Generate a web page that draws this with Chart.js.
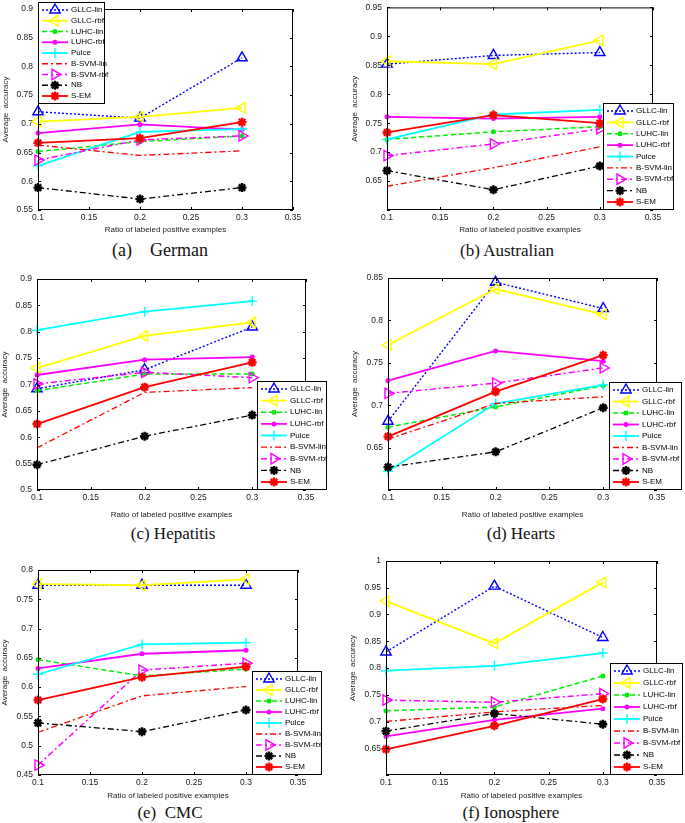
<!DOCTYPE html>
<html lang="en">
<head>
<meta charset="UTF-8" />
<title>Average accuracy vs ratio of labeled positive examples</title>
<script src="https://cdn.jsdelivr.net/npm/chart.js"></script>
<style>
  body { margin: 0; background: #fff; }
  #page { position: relative; width: 685px; height: 823px; overflow: hidden; }
  #page canvas { position: absolute; }
  .caption {
    position: absolute;
    font-family: "Liberation Serif", "Times New Roman", serif;
    font-size: 17px;
    line-height: 1;
    color: #111;
    white-space: pre;
    transform: translate(-50%, -50%);
  }
</style>
</head>
<body>
<div id="page"></div>
<script>
const ratios = [0.1, 0.2, 0.3];
const methods = ["GLLC-lin", "GLLC-rbf", "LUHC-lin", "LUHC-rbf", "Pulce", "B-SVM-lin", "B-SVM-rbf", "NB", "S-EM"];

// one row per method, in the order above; columns follow ratios
const german = [
  [0.721, 0.710, 0.815],
  [0.704, 0.712, 0.728],
  [0.652, 0.669, 0.679],
  [0.684, 0.699, 0.690],
  [0.627, 0.686, 0.691],
  [0.663, 0.645, 0.653],
  [0.637, 0.672, 0.679],
  [0.589, 0.569, 0.589],
  [0.667, 0.675, 0.703]
];
const australian = [
  [0.852, 0.867, 0.872],
  [0.857, 0.852, 0.893],
  [0.722, 0.735, 0.744],
  [0.761, 0.758, 0.761],
  [0.722, 0.765, 0.773],
  [0.641, 0.673, 0.709],
  [0.694, 0.714, 0.740],
  [0.668, 0.635, 0.676],
  [0.734, 0.764, 0.750]
];
const hepatitis = [
  [0.692, 0.728, 0.809],
  [0.731, 0.792, 0.818],
  [0.688, 0.720, 0.720],
  [0.718, 0.747, 0.752],
  [0.803, 0.838, 0.858],
  [0.580, 0.685, 0.694],
  [0.701, 0.723, 0.713],
  [0.548, 0.602, 0.642],
  [0.625, 0.695, 0.742]
];
const hearts = [
  [0.681, 0.845, 0.814],
  [0.771, 0.837, 0.807],
  [0.674, 0.698, 0.723],
  [0.729, 0.764, 0.752],
  [0.622, 0.702, 0.724],
  [0.660, 0.702, 0.710],
  [0.714, 0.726, 0.744],
  [0.627, 0.645, 0.697],
  [0.663, 0.716, 0.759]
];
const cmc = [
  [0.774, 0.774, 0.774],
  [0.776, 0.774, 0.784],
  [0.647, 0.619, 0.631],
  [0.632, 0.657, 0.663],
  [0.622, 0.673, 0.676],
  [0.523, 0.585, 0.601],
  [0.467, 0.629, 0.641],
  [0.539, 0.524, 0.561],
  [0.578, 0.617, 0.635]
];
const ionosphere = [
  [0.830, 0.953, 0.857],
  [0.925, 0.846, 0.960],
  [0.720, 0.727, 0.785],
  [0.672, 0.703, 0.724],
  [0.795, 0.804, 0.828],
  [0.700, 0.718, 0.730],
  [0.740, 0.736, 0.752],
  [0.682, 0.715, 0.695],
  [0.648, 0.692, 0.742]
];

// matlab-ish line specs
const styles = [
  { color: "#0000ff", dash: [2, 2], width: 1.4, point: "triangle", rot: 0, r: 6, fill: false },
  { color: "#ffff00", dash: [], width: 1.8, point: "triangle", rot: -90, r: 6, fill: false },
  { color: "#00ee00", dash: [5, 3], width: 1.5, point: "circle", rot: 0, r: 1.8, fill: true },
  { color: "#ff00ff", dash: [], width: 1.8, point: "circle", rot: 0, r: 1.8, fill: true },
  { color: "#00ffff", dash: [], width: 1.8, point: "cross", rot: 0, r: 5, fill: false },
  { color: "#ff0000", dash: [6, 3, 2, 3], width: 1.3, point: "circle", rot: 0, r: 0, fill: false },
  { color: "#ff00ff", dash: [6, 3, 2, 3], width: 1.5, point: "triangle", rot: 90, r: 6, fill: false },
  { color: "#000000", dash: [6, 3, 2, 3], width: 1.3, point: "star", rot: 0, r: 4.5, fill: false },
  { color: "#ff0000", dash: [], width: 1.8, point: "star", rot: 0, r: 4.5, fill: false }
];

// page coords: canvas [x, y, w, h], plot [left, top, right, bottom], legend [x, y, w, h]
const panels = [
  { data: german, canvas: [0, 0, 340, 236], plot: [38, 9, 293, 210], y: [0.55, 0.9], hideMin: false, yPad: 1, legend: [38, 2, 67, 102] },
  { data: australian, canvas: [340, 0, 345, 236], plot: [387, 3, 653, 210], y: [0.6, 0.95], hideMin: true, yPad: 10, legend: [603, 103, 71, 107] },
  { data: hepatitis, canvas: [0, 270, 340, 251], plot: [37, 279, 306, 490], y: [0.5, 0.9], hideMin: false, yPad: 0, legend: [257, 381, 70, 109] },
  { data: hearts, canvas: [340, 270, 345, 251], plot: [388, 278, 657, 490], y: [0.6, 0.85], hideMin: true, yPad: 10, legend: [609, 382, 73, 108] },
  { data: cmc, canvas: [0, 548, 340, 254], plot: [38, 570, 298, 775], y: [0.45, 0.8], hideMin: false, yPad: 0, legend: [252, 671, 70, 104] },
  { data: ionosphere, canvas: [340, 548, 345, 254], plot: [386, 561, 657, 775], y: [0.6, 1.0], hideMin: true, yPad: 8, legend: [610, 663, 73, 112] }
];

const captions = [
  { text: "(a)    German", x: 160, y: 250, size: 18 },
  { text: "(b) Australian", x: 507, y: 250, size: 17 },
  { text: "(c) Hepatitis", x: 173, y: 533, size: 17 },
  { text: "(d) Hearts", x: 521, y: 533, size: 17 },
  { text: "(e)  CMC", x: 170, y: 812, size: 17 },
  { text: "(f) Ionosphere", x: 511, y: 812, size: 17 }
];

const FONT = "'Liberation Sans', Arial, sans-serif";
const fmt = (v) => String(+v.toFixed(2));

const boxPlugin = {
  id: "boxPlugin",
  afterDraw(chart, args, opts) {
    const { ctx, chartArea: a, scales } = chart;
    ctx.save();
    ctx.setLineDash([]);
    ctx.strokeStyle = "#000";
    ctx.lineWidth = 1;
    ctx.strokeRect(a.left + 0.5, a.top + 0.5, a.right - a.left - 1, a.bottom - a.top - 1);
    ctx.beginPath();
    scales.x.ticks.forEach((t) => {
      const px = Math.round(scales.x.getPixelForValue(t.value)) + 0.5;
      ctx.moveTo(px, a.bottom); ctx.lineTo(px, a.bottom - 3);
      ctx.moveTo(px, a.top); ctx.lineTo(px, a.top + 3);
    });
    scales.y.ticks.forEach((t) => {
      const py = Math.round(scales.y.getPixelForValue(t.value)) + 0.5;
      ctx.moveTo(a.left, py); ctx.lineTo(a.left + 3, py);
      ctx.moveTo(a.right, py); ctx.lineTo(a.right - 3, py);
    });
    ctx.stroke();

    // legend box, line sample + marker + name
    const [bx, by, bw, bh] = opts.box;
    ctx.fillStyle = "#fff";
    ctx.fillRect(bx, by, bw, bh);
    ctx.strokeRect(bx + 0.5, by + 0.5, bw - 1, bh - 1);
    const step = (bh - 16) / 8;
    ctx.font = "8px " + FONT;
    ctx.textBaseline = "middle";
    chart.data.datasets.forEach((ds, i) => {
      const cy = by + 8 + i * step;
      ctx.strokeStyle = ds.borderColor;
      ctx.lineWidth = ds.borderWidth;
      ctx.setLineDash(ds.borderDash);
      ctx.beginPath();
      ctx.moveTo(bx + 4, cy);
      ctx.lineTo(bx + 30, cy);
      ctx.stroke();
      ctx.setLineDash([]);
      if (ds.pointRadius > 0) {
        ctx.fillStyle = ds.pointBackgroundColor;
        ctx.strokeStyle = ds.pointBorderColor;
        ctx.lineWidth = ds.pointBorderWidth;
        Chart.helpers.drawPoint(ctx, {
          pointStyle: ds.pointStyle,
          rotation: ds.pointRotation,
          radius: ds.pointRadius,
          borderWidth: ds.pointBorderWidth
        }, bx + 17, cy);
      }
      ctx.fillStyle = "#000";
      ctx.fillText(ds.label, bx + 33, cy);
    });
    ctx.restore();
  }
};

function makePanel(p) {
  const [cx, cy, cw, ch] = p.canvas;
  const [pl, pt, pr, pb] = p.plot;
  const canvas = document.createElement("canvas");
  canvas.width = cw;
  canvas.height = ch;
  canvas.style.left = cx + "px";
  canvas.style.top = cy + "px";
  document.getElementById("page").appendChild(canvas);

  const datasets = methods.map((name, i) => {
    const s = styles[i];
    return {
      label: name,
      data: ratios.map((r, j) => ({ x: r, y: p.data[i][j] })),
      showLine: true,
      borderColor: s.color,
      borderWidth: s.width,
      borderDash: s.dash,
      pointStyle: s.point,
      pointRotation: s.rot,
      pointRadius: s.r,
      pointBorderColor: s.color,
      pointBackgroundColor: s.fill ? s.color : "rgba(255,255,255,0)",
      pointBorderWidth: s.point === "star" ? 2.4 : 1.4,
      clip: false,
      order: methods.length - i
    };
  });

  new Chart(canvas, {
    type: "scatter",
    data: { datasets },
    options: {
      responsive: false,
      animation: false,
      events: [],
      layout: { padding: { left: 0, bottom: 0, top: pt - cy, right: cx + cw - pr } },
      plugins: {
        legend: { display: false },
        tooltip: { enabled: false },
        boxPlugin: { box: [p.legend[0] - cx, p.legend[1] - cy, p.legend[2], p.legend[3]] }
      },
      scales: {
        x: {
          type: "linear",
          min: 0.1,
          max: 0.35,
          grid: { display: false, drawTicks: false },
          border: { display: false },
          ticks: { stepSize: 0.05, padding: 3, color: "#222", font: { family: FONT, size: 8.5 }, callback: fmt },
          title: { display: true, text: "Ratio of labeled positive examples", color: "#222", padding: { top: 0, bottom: 1 }, font: { family: FONT, size: 8 } },
          afterFit: (s) => { s.height = cy + ch - pb; s.paddingLeft = 0; s.paddingRight = 0; }
        },
        y: {
          min: p.y[0],
          max: p.y[1],
          grid: { display: false, drawTicks: false },
          border: { display: false },
          ticks: {
            stepSize: 0.05,
            padding: 5,
            color: "#222",
            font: { family: FONT, size: 8.5 },
            callback: (v) => (p.hideMin && Math.abs(v - p.y[0]) < 1e-9 ? "" : fmt(v))
          },
          title: { display: true, text: "Average  accuracy", color: "#222", padding: { top: p.yPad, bottom: 0 }, font: { family: FONT, size: 8 } },
          afterFit: (s) => { s.width = pl - cx; s.paddingTop = 0; s.paddingBottom = 0; }
        }
      }
    },
    plugins: [boxPlugin]
  });
}

panels.forEach(makePanel);

captions.forEach((c) => {
  const d = document.createElement("div");
  d.className = "caption";
  d.textContent = c.text;
  d.style.left = c.x + "px";
  d.style.top = c.y + "px";
  d.style.fontSize = c.size + "px";
  document.getElementById("page").appendChild(d);
});
</script>
</body>
</html>
